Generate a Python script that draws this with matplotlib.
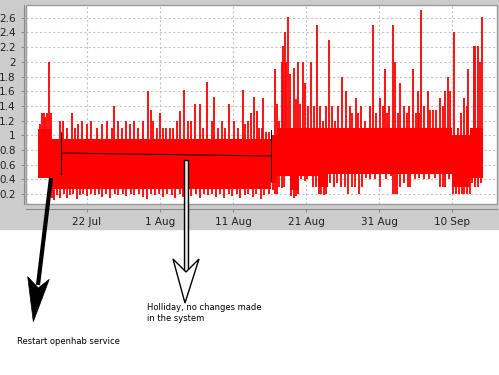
import datetime as dt
import matplotlib
matplotlib.use("Agg")
import matplotlib.pyplot as plt
import matplotlib.dates as mdates
from matplotlib.patches import Rectangle, Polygon
from matplotlib.ticker import FixedLocator, FuncFormatter

# ---- data: time in days counted from 1 Jul ----
start = dt.datetime(2016, 7, 1)

# solid part of the signal (step segments)
core_t  = [14.3, 16.0, 46.2, 47.0, 48.8, 50.0, 52.7, 54.0, 71.0, 73.5, 75.25]
core_lo = [0.42, 0.27, 0.35, 0.45, 0.25, 0.45, 0.30, 0.47, 0.30, 0.42]
core_hi = [1.08, 0.95, 1.00, 1.10, 1.10, 1.10, 1.10, 1.10, 1.00, 1.10]

# upward spikes
peak_day = [14.6, 14.8, 15.1, 15.3, 15.5, 15.8, 16.0,
            17.3, 17.75, 18.2, 18.9, 19.35, 19.8, 20.3, 21.0, 21.6, 22.3,
            23.0, 23.7, 24.4, 24.7, 25.3, 25.75, 26.4, 26.9, 27.4, 28.0,
            28.7, 29.4, 29.7, 30.1, 30.6, 31.0, 31.4, 31.8, 32.4, 32.8,
            33.3, 33.7, 34.3, 34.9, 35.2, 35.8, 36.5, 36.9, 37.5, 38.1,
            38.4, 39.0, 39.45, 39.9, 40.45, 41.2, 41.7, 42.3, 42.7, 43.1,
            43.45, 43.9, 44.25, 44.55, 44.9, 45.05, 45.5, 45.9,
            46.7, 47.0, 47.3, 47.7, 47.9, 48.1, 48.3, 48.5, 48.8, 49.3,
            49.6, 49.9, 50.2, 50.6, 50.9, 51.3, 51.7, 52.1, 52.5, 52.9,
            53.3, 53.7, 54.2, 54.5, 54.9, 55.4, 55.9, 56.5, 57.0, 57.3,
            57.8, 58.1, 58.5, 59.1, 59.8, 60.2, 60.6, 61.2, 61.5, 61.8,
            62.1, 62.3, 62.9, 63.2, 63.6, 63.9, 64.4, 64.8, 65.1, 65.7,
            66.0, 66.3, 66.5, 66.8, 67.2, 67.7, 68.0, 68.4, 68.8, 69.3,
            69.8, 70.0, 70.4, 70.7, 71.3, 71.8, 72.2, 72.7, 73.0, 73.2,
            73.6, 74.0, 74.2, 74.5, 74.8, 75.1]
peak_val = [1.15, 1.3, 1.3, 1.25, 1.3, 2.0, 1.3,
            1.2, 1.2, 1.1, 1.3, 1.1, 1.15, 1.2, 1.15, 1.2, 1.1,
            1.15, 1.2, 1.1, 1.4, 1.2, 1.1, 1.2, 1.15, 1.2, 1.1,
            1.2, 1.6, 1.35, 1.2, 1.1, 1.3, 1.1, 1.1, 1.1, 1.1,
            1.2, 1.33, 1.61, 1.2, 1.2, 1.42, 1.42, 1.1, 1.73, 1.2,
            1.52, 1.1, 1.2, 1.1, 1.42, 1.2, 1.1, 1.61, 1.15, 1.2,
            1.3, 1.52, 1.33, 1.1, 1.1, 1.51, 1.05, 1.05,
            1.9, 1.42, 1.2, 2.0, 2.21, 2.41, 2.0, 2.61, 1.83, 1.92,
            1.5, 2.0, 1.42, 2.0, 1.71, 1.4, 2.0, 1.4, 2.5, 1.4,
            1.2, 1.4, 2.3, 1.4, 1.2, 1.4, 1.8, 1.6, 1.4, 1.3,
            1.51, 1.3, 1.4, 1.2, 1.4, 2.5, 1.3, 1.51, 1.4, 1.9,
            1.3, 1.4, 2.5, 2.0, 1.3, 1.71, 1.4, 1.3, 1.4, 1.9,
            1.3, 1.6, 1.3, 2.7, 1.4, 1.6, 1.35, 1.35, 1.35, 1.51,
            1.4, 1.6, 1.8, 1.6, 2.41, 1.1, 1.3, 1.51, 1.4, 1.9,
            1.1, 2.21, 2.21, 2.21, 2.0, 2.61]

# downward spikes
dip_day = [16.2, 16.5, 16.9, 17.3, 17.8, 18.2, 18.7, 19.1, 19.6, 20.0,
           20.5, 21.0, 21.6, 22.1, 22.7, 23.1, 23.6, 24.2, 24.8, 25.3,
           25.9, 26.4, 27.0, 27.5, 28.1, 28.6, 29.2, 29.8, 30.3, 30.9,
           31.4, 32.0, 32.6, 33.1, 33.7, 34.2, 34.8, 35.3, 35.9, 36.5,
           37.0, 37.6, 38.1, 38.7, 39.2, 39.8, 40.4, 40.9, 41.5, 42.0,
           42.6, 43.1, 43.7, 44.2, 44.8, 45.3, 45.9,
           46.5, 46.8, 47.0, 47.3, 47.7, 48.0, 49.0, 49.3, 49.6, 49.9,
           50.3, 50.8, 51.2, 51.9, 52.3, 52.8, 53.1, 53.5, 53.8, 54.3,
           54.8, 55.3, 55.8, 56.4, 56.8, 57.3, 57.7, 58.2, 58.6, 59.2,
           59.8, 60.4, 61.1, 61.9, 62.6, 62.9, 63.2, 63.5, 63.9, 64.4,
           64.9, 65.3, 65.9, 66.5, 67.2, 67.9, 68.6, 69.4, 69.7, 70.0,
           70.6, 71.2, 71.5, 71.9, 72.3, 72.7, 73.1, 73.4, 73.8, 74.2,
           74.6, 75.0]
dip_val = [0.15, 0.12, 0.18, 0.14, 0.2, 0.15, 0.18, 0.2, 0.13, 0.18,
           0.2, 0.17, 0.2, 0.18, 0.2, 0.16, 0.2, 0.14, 0.2, 0.18,
           0.2, 0.17, 0.2, 0.18, 0.2, 0.16, 0.13, 0.2, 0.18, 0.2,
           0.16, 0.2, 0.18, 0.15, 0.2, 0.16, 0.2, 0.17, 0.2, 0.15,
           0.2, 0.18, 0.2, 0.16, 0.2, 0.15, 0.2, 0.17, 0.2, 0.15,
           0.18, 0.2, 0.16, 0.2, 0.13, 0.18, 0.2,
           0.25, 0.2, 0.2, 0.3, 0.28, 0.3, 0.17, 0.15, 0.17, 0.2,
           0.4, 0.38, 0.4, 0.3, 0.3, 0.2, 0.2, 0.18, 0.2, 0.35,
           0.3, 0.35, 0.3, 0.3, 0.2, 0.3, 0.3, 0.2, 0.3, 0.42,
           0.4, 0.4, 0.3, 0.4, 0.45, 0.2, 0.2, 0.2, 0.3, 0.35,
           0.3, 0.3, 0.4, 0.42, 0.4, 0.4, 0.42, 0.3, 0.3, 0.3,
           0.4, 0.2, 0.2, 0.2, 0.2, 0.2, 0.2, 0.2, 0.35, 0.3,
           0.3, 0.35]

tick_days = [21, 31, 41, 51, 61, 71]   # 22 Jul ... 10 Sep
y_ticks = [0.2, 0.4, 0.6, 0.8, 1.0, 1.2, 1.4, 1.6, 1.8, 2.0, 2.2, 2.4, 2.6]

t0 = mdates.date2num(start)
def d2n(days):
    return [t0 + d for d in days]

RED = "#ff0000"

# ---- figure (screenshot: grey chart panel, white canvas below) ----
fig = plt.figure(figsize=(4.99, 3.75), dpi=100, facecolor="white")
W, H = 499, 375
fig.patches.append(Rectangle((0, 1 - 229 / H), 1, 229 / H, transform=fig.transFigure,
                             color="#cccccc", zorder=-10))

ax = fig.add_axes([26 / W, 1 - 204 / H, (497 - 26) / W, (204 - 5) / H])
ax.set_facecolor("white")

ax.fill_between(d2n(core_t), core_lo + [core_lo[-1]], core_hi + [core_hi[-1]],
                step="post", color=RED, lw=0, zorder=3)
ax.vlines(d2n(peak_day), 0.8, peak_val, color=RED, lw=1.3, zorder=3)
ax.vlines(d2n(dip_day), dip_val, 0.6, color=RED, lw=1.3, zorder=3)

ax.set_xlim(t0 + 12.64, t0 + 77.16)
ax.set_ylim(0.064, 2.774)

ax.xaxis.set_major_locator(FixedLocator(d2n(tick_days)))
ax.xaxis.set_major_formatter(FuncFormatter(
    lambda x, pos: f"{mdates.num2date(x).day} {mdates.num2date(x):%b}"))
ax.yaxis.set_major_locator(FixedLocator(y_ticks))
ax.yaxis.set_major_formatter(FuncFormatter(lambda v, pos: f"{v:g}"))

ax.grid(True, color="#c4c4c4", linestyle=(0, (2, 2)), linewidth=0.8, zorder=1)
ax.set_axisbelow(True)

for s in ["top", "right"]:
    ax.spines[s].set_visible(False)
ax.spines["bottom"].set_position(("outward", 3.6))
ax.spines["left"].set_position(("outward", 1.5))
ax.spines["bottom"].set_color("#8a8a8a")
ax.spines["left"].set_color("#8a8a8a")
ax.add_patch(Rectangle((0, 0), 1, 1, transform=ax.transAxes, fill=False,
                       ec="#9a9a9a", lw=1.0, clip_on=False, zorder=5))

ax.tick_params(axis="x", length=2, pad=4, labelsize=7.5, colors="#8a8a8a", labelcolor="#222222")
ax.tick_params(axis="y", length=2, pad=4, labelsize=7.5, colors="#8a8a8a", labelcolor="#222222")

# ---- hand drawn annotations (pixel coordinates) ----
ov = fig.add_axes([0, 0, 1, 1])
ov.set_xlim(0, W)
ov.set_ylim(H, 0)
ov.axis("off")
ov.patch.set_alpha(0)

# holiday bracket
ov.plot([62, 271], [153, 156], color="black", lw=0.7)
ov.plot([61.5, 61.5], [132, 174], color="black", lw=0.7)
ov.plot([271.3, 271.3], [130, 180], color="black", lw=0.7)

# black arrow -> restart
ov.plot([51, 38], [178, 285], color="black", lw=3, solid_capstyle="butt")
ov.add_patch(Polygon([(27.7, 276.7), (38.3, 288), (49.3, 279.3), (33.3, 321.7)],
                     closed=True, fc="black", ec="black", lw=0.5))

# white arrow -> holiday
ov.add_patch(Rectangle((184.3, 160), 4, 114, fc="#e8e8e8", ec="black", lw=1.0))
ov.add_patch(Polygon([(173, 259), (186, 272), (199, 259), (185, 303)],
                     closed=True, fc="white", ec="black", lw=1.0))

ov.text(147, 308, "Holliday, no changes made", fontsize=6, ha="left", va="center")
ov.text(147, 318.5, "in the system", fontsize=6, ha="left", va="center")
ov.text(17, 341, "Restart openhab service", fontsize=6, ha="left", va="center")

fig.savefig("out.png", dpi=100)
